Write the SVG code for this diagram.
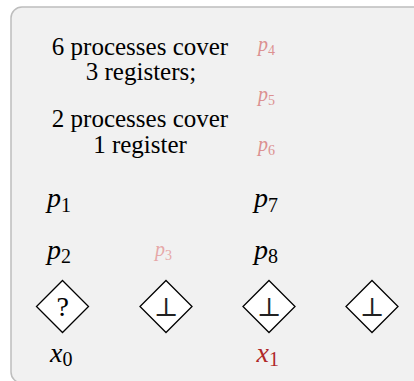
<svg xmlns="http://www.w3.org/2000/svg" width="414" height="381" viewBox="0 0 414 381">
<style>
text{font-family:'Liberation Serif','Times New Roman',Times,Tinos,'Noto Serif','DejaVu Serif','Nimbus Roman','Nimbus Roman No9 L',FreeSerif,serif}
.t{fill:#000}
.lbl{font-size:25px;text-anchor:middle}
.m{font-size:28px;font-style:italic}
.ms{font-size:20px;font-style:normal}
.sm{font-size:20px;font-style:italic}
.sms{font-size:14px;font-style:normal}
.faint{fill:#dc9090}
.faint2{fill:#e6a8a8}
.red{fill:#b0282a}
.dia{fill:#fff;stroke:#000;stroke-width:1.3}
.sym{font-size:26px;text-anchor:middle;fill:#222}
</style>
<rect x="0" y="0" width="414" height="381" fill="#fff"/>
<rect x="11" y="7" width="420" height="376" rx="11" fill="#f1f1f1" stroke="#bdbdbd" stroke-width="1.5"/>
<g id="connectors"/>
<g id="caption">
<text class="t lbl" x="140" y="55">6 processes cover</text>
<text class="t lbl" x="141" y="80">3 registers;</text>
<text class="t lbl" x="140" y="127">2 processes cover</text>
<text class="t lbl" x="140" y="153">1 register</text>
</g>
<g id="p4"><text class="t sm faint" x="258" y="51">p<tspan class="sms" dy="4">4</tspan></text></g>
<g id="p5"><text class="t sm faint" x="258" y="101">p<tspan class="sms" dy="4">5</tspan></text></g>
<g id="p6"><text class="t sm faint" x="258" y="151">p<tspan class="sms" dy="4">6</tspan></text></g>
<g id="p1"><text class="t m" x="47" y="207">p<tspan class="ms" dy="5">1</tspan></text></g>
<g id="p2"><text class="t m" x="47" y="259">p<tspan class="ms" dy="4">2</tspan></text></g>
<g id="p3"><text class="t sm faint2" x="155" y="256">p<tspan class="sms" dy="4">3</tspan></text></g>
<g id="p7"><text class="t m" x="254" y="207">p<tspan class="ms" dy="5">7</tspan></text></g>
<g id="p8"><text class="t m" x="254" y="259">p<tspan class="ms" dy="4">8</tspan></text></g>
<g id="reg0">
<polygon class="dia" points="62.5,280.5 88.5,306.5 62.5,332.5 36.5,306.5"/>
<text class="t" x="62.8" y="316" font-size="28" text-anchor="middle">?</text>
</g>
<g id="reg1">
<polygon class="dia" points="166,280.5 192,306.5 166,332.5 140,306.5"/>
<text class="sym" x="166" y="316">⊥</text>
</g>
<g id="reg2">
<polygon class="dia" points="269,280.5 295,306.5 269,332.5 243,306.5"/>
<text class="sym" x="269" y="316">⊥</text>
</g>
<g id="reg3">
<polygon class="dia" points="372,280.5 398,306.5 372,332.5 346,306.5"/>
<text class="sym" x="372" y="316">⊥</text>
</g>
<g id="x0"><text class="t m" x="50" y="361.5">x<tspan class="ms" dy="4.5">0</tspan></text></g>
<g id="x1"><text class="t m red" x="256.5" y="362">x<tspan class="ms" dy="4">1</tspan></text></g>
</svg>
